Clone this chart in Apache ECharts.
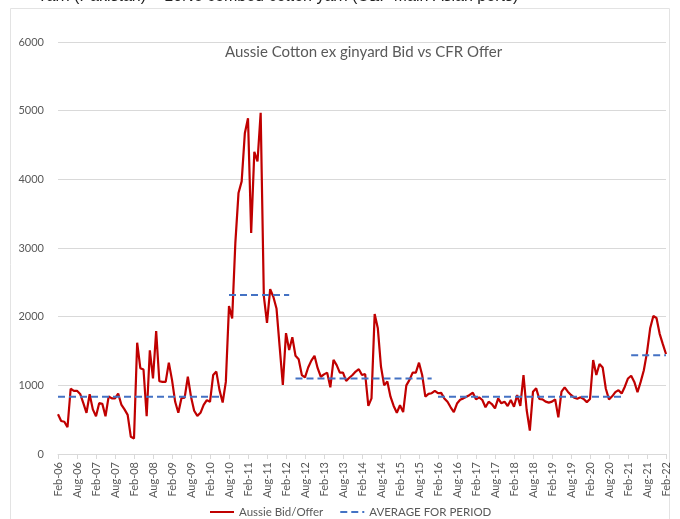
<!DOCTYPE html>
<html>
<head>
<meta charset="utf-8">
<script src="https://cdn.jsdelivr.net/npm/echarts@6/dist/echarts.min.js"></script>
<style>
  html, body { margin: 0; padding: 0; background: #fff; }
  #chart { width: 680px; height: 519px; }
</style>
</head>
<body>
<div id="chart"></div>
<script>
// Monthly categories Feb-06 .. Feb-22
const monthNames = ['Jan', 'Feb', 'Mar', 'Apr', 'May', 'Jun', 'Jul', 'Aug', 'Sep', 'Oct', 'Nov', 'Dec'];
const firstYear = 2006;
const firstMonth = 1; // Feb
const monthCount = 193;

// Aussie bid/offer spread (one value per month)
const bidOffer2006to2008 = [
  580, 480, 470, 390, 950, 920, 920, 875, 740, 600,
  870, 650, 550, 740, 730, 550, 840, 810, 810, 880,
  720, 650, 570, 250, 225, 1620, 1250, 1230, 550, 1510,
  1100, 1790, 1060
];
const bidOffer2008to2011 = [
  1050, 1050, 1330, 1080, 760, 600, 815, 820, 1125, 835,
  630, 555, 600, 715, 785, 760, 1150, 1200, 930, 750,
  1050, 2155, 1975, 3070, 3800, 3970, 4670, 4890, 3220, 4400,
  4260, 4970
];
const bidOffer2011to2014 = [
  2300, 1910, 2400, 2290, 2120, 1560, 1005, 1760, 1515, 1700,
  1430, 1380, 1150, 1115, 1260, 1360, 1430, 1250, 1125, 1160,
  1185, 970, 1370, 1295, 1185, 1185, 1065, 1110, 1150, 1200,
  1235, 1150, 1165
];
const bidOffer2014to2016 = [
  700, 810, 2040, 1830, 1270, 1000, 1055, 835, 700, 600,
  710, 610, 1000, 1080, 1185, 1185, 1330, 1150, 835, 875,
  885, 920, 885, 890, 810, 760, 680, 610, 735, 790,
  810, 835, 860, 893
];
const bidOffer2017to2019 = [
  796, 825, 786, 680, 762, 728, 665, 810, 738, 762,
  699, 786, 689, 859, 699, 1150, 641, 340, 908, 956,
  801, 796, 762, 748, 762, 796, 534, 908, 971, 908
];
const bidOffer2019to2022 = [
  860, 820, 806, 825, 800, 755, 800, 1369, 1150, 1311,
  1260, 950, 796, 840, 900, 930, 880, 980, 1100, 1140,
  1050, 900, 1050, 1220, 1480, 1830, 2010, 1980, 1750, 1600,
  1456
];

// Period averages
const avgValues = [835, 2315, 1100, 835, 1437];
const avgFrom = ['Feb-06', 'Aug-10', 'May-12', 'Feb-16', 'Mar-21'];
const avgTo = ['Jun-10', 'Mar-12', 'Dec-15', 'Jan-21', 'Feb-22'];

const categories = [];
for (let i = 0; i < monthCount; i++) {
  const t = firstMonth + i;
  const yy = String((firstYear + Math.floor(t / 12)) % 100).padStart(2, '0');
  categories.push(monthNames[t % 12] + '-' + yy);
}

const bidOffer = [].concat(bidOffer2006to2008, bidOffer2008to2011, bidOffer2011to2014,
  bidOffer2014to2016, bidOffer2017to2019, bidOffer2019to2022);

const avgData = categories.map(() => null);
avgValues.forEach((v, k) => {
  const a = categories.indexOf(avgFrom[k]);
  const b = categories.indexOf(avgTo[k]);
  for (let i = a; i <= b; i++) avgData[i] = v;
});

const labelColor = '#595959';
const gridColor = '#d9d9d9';
const font = 'Lato, "Open Sans", sans-serif';

const chart = echarts.init(document.getElementById('chart'));
chart.setOption({
  animation: false,
  textStyle: { fontFamily: font },
  title: {
    text: 'Aussie Cotton ex ginyard Bid vs CFR Offer',
    left: 220,
    top: 40,
    textStyle: { fontSize: 15, fontWeight: 'normal', color: labelColor, fontFamily: font }
  },
  graphic: [
    {
      type: 'rect',
      shape: { x: 10.5, y: 8.5, width: 659, height: 520 },
      style: { fill: 'none', stroke: '#e3e3e3', lineWidth: 1 },
      silent: true
    },
    {
      type: 'text',
      left: 37,
      top: -11,
      style: {
        text: 'Yarn (Pakistan) = 10Ne combed cotton yarn (C&F Main Asian ports)',
        fontSize: 16,
        fontFamily: '"Liberation Sans", Arial, sans-serif',
        fill: '#222'
      },
      silent: true
    }
  ],
  legend: {
    left: 204,
    top: 501,
    itemWidth: 24,
    itemHeight: 12,
    itemGap: 16,
    itemStyle: { opacity: 0 },
    textStyle: { fontSize: 11.5, color: labelColor, fontFamily: font },
    data: ['Aussie Bid/Offer', 'AVERAGE FOR PERIOD']
  },
  grid: { left: 58, right: 14, top: 42, bottom: 65 },
  xAxis: {
    type: 'category',
    data: categories,
    boundaryGap: false,
    axisLine: { lineStyle: { color: gridColor } },
    axisTick: { show: true, interval: 5, length: 5, lineStyle: { color: gridColor } },
    axisLabel: { interval: 5, rotate: 90, color: labelColor, fontSize: 11, margin: 8 }
  },
  yAxis: {
    type: 'value',
    min: 0,
    max: 6000,
    interval: 1000,
    axisLine: { show: false },
    axisTick: { show: false },
    splitLine: { lineStyle: { color: gridColor } },
    axisLabel: { color: labelColor, fontSize: 11, margin: 14, formatter: v => String(v) }
  },
  series: [
    {
      name: 'Aussie Bid/Offer',
      type: 'line',
      data: bidOffer,
      symbol: 'none',
      lineStyle: { color: '#C00000', width: 2.2 },
      itemStyle: { color: '#C00000' }
    },
    {
      name: 'AVERAGE FOR PERIOD',
      type: 'line',
      data: avgData,
      symbol: 'none',
      connectNulls: false,
      lineStyle: { color: '#4472C4', width: 2, type: [7, 4] },
      itemStyle: { color: '#4472C4' }
    }
  ]
});
</script>
</body>
</html>
